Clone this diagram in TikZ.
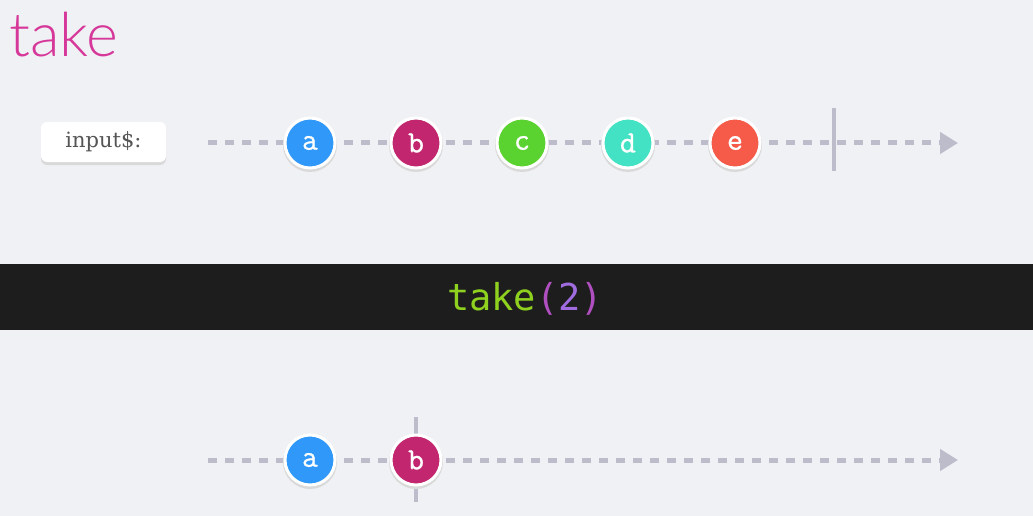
\documentclass[tikz,border=0pt]{standalone}
\usepackage{fontspec}
\setmainfont{DejaVu Serif}
\newfontfamily\titlefont{Lato Light}
\newfontfamily\codefont{DejaVu Sans Mono}
\newfontfamily\marblefont[FakeBold=0.8]{Latin Modern Mono}
\usetikzlibrary{arrows.meta}
\definecolor{bg}{HTML}{F0F1F5}
\definecolor{band}{HTML}{1D1D1D}
\definecolor{dashc}{HTML}{BCBCCA}
\definecolor{ca}{HTML}{3098F8}
\definecolor{cb}{HTML}{C2266F}
\definecolor{cc}{HTML}{5AD22F}
\definecolor{cd}{HTML}{44E2C4}
\definecolor{ce}{HTML}{F55B48}
\definecolor{titlec}{HTML}{D6389A}
\definecolor{codegreen}{HTML}{8FD11F}
\definecolor{codeparen}{HTML}{B04FC0}
\definecolor{codenum}{HTML}{A06CE0}
\definecolor{labeltext}{HTML}{555555}
\tikzset{
  timeline/.style={draw=dashc, line width=5pt, dash pattern=on 9pt off 8pt},
  tipline/.style={draw=dashc, line width=5pt, dash pattern=on 9pt off 8pt, -{Triangle[length=18pt,width=21pt,fill=dashc]}},
  marble/.style={circle, minimum size=50pt, inner sep=0pt, draw=white, line width=3pt, text=white, font=\marblefont\fontsize{31}{31}\selectfont},
  marbleshadow/.style={circle, minimum size=54pt, inner sep=0pt, fill=black!15},
  endbar/.style={draw=dashc, line width=4pt},
}
\begin{document}
\begin{tikzpicture}[x=1pt,y=-1pt]
\useasboundingbox (0,0) rectangle (1033,516);
\fill[bg] (0,0) rectangle (1033,516);
% title
\node[anchor=base west, text=titlec, font=\titlefont\fontsize{61}{61}\selectfont, inner sep=0pt] (title) at (9,57) {take};
% input label
\fill[black!15, rounded corners=6pt] (41,125) rectangle (166,165);
\node[fill=white, rounded corners=6pt, minimum width=125pt, minimum height=40pt, inner sep=0pt, text=labeltext, font=\fontsize{21}{21}\selectfont] (lbl) at (103.5,142) {input\$:};
% top timeline
\coordinate (ts) at (208,143);
\coordinate (te) at (958,143);
\draw[tipline] (ts) -- (te);
\coordinate (cbt) at (834,108);
\coordinate (cbb) at (834,171);
\draw[endbar] (cbt) -- (cbb);
\foreach \n/\x/\c in {a/310/ca,b/416/cb,c/522/cc,d/628/cd,e/735/ce}{
  \node[marbleshadow] at (\x,145) {};
  \node[marble, fill=\c] (t\n) at (\x,143) {\n};
}
% operator band
\fill[band] (0,264) rectangle (1033,330);
\node[font=\codefont\fontsize{37}{37}\selectfont, inner sep=0pt] (op) at (525,299) {\textcolor{codegreen}{take}\textcolor{codeparen}{(}\textcolor{codenum}{2}\textcolor{codeparen}{)}};
% bottom timeline
\coordinate (bs) at (208,460);
\coordinate (be) at (958,460);
\draw[tipline] (bs) -- (be);
\coordinate (bbt) at (416,417);
\coordinate (bbb) at (416,502);
\draw[endbar] (bbt) -- (bbb);
\foreach \n/\x/\c in {a/310/ca,b/416/cb}{
  \node[marbleshadow] at (\x,462) {};
  \node[marble, fill=\c] (b\n) at (\x,460) {\n};
}
\end{tikzpicture}
\end{document}
